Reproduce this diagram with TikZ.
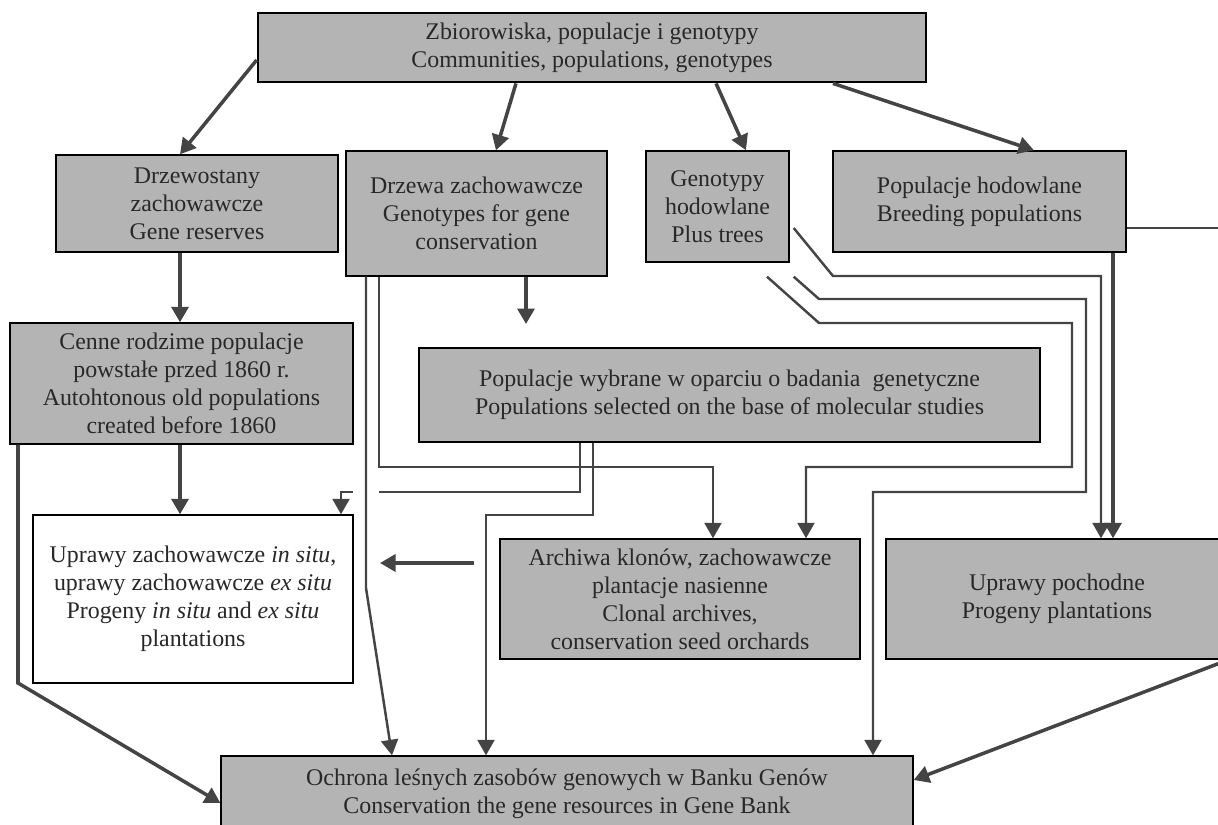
\documentclass[tikz,border=0pt]{standalone}
\usepackage{fontspec}
\setmainfont{Liberation Serif}
\usetikzlibrary{calc}
\usetikzlibrary{arrows.meta}
\definecolor{boxgray}{RGB}{180,180,180}
\definecolor{linegray}{RGB}{68,68,68}
\definecolor{textgray}{RGB}{40,40,40}

\begin{document}
\begin{tikzpicture}[x=0.02cm, y=-0.02cm,
    box/.style={draw=black, line width=0.8pt, fill=boxgray, text=textgray, align=center,
        inner sep=0pt, font=\fontsize{13.6}{16}\selectfont},
    arr/.style={draw=linegray, line width=2pt, -{Triangle[length=0.31cm,width=0.34cm]}},
    wire/.style={draw=linegray, line width=1.4pt, -{Triangle[length=0.31cm,width=0.34cm]}}]
    \clip (0,0) rectangle (1218,825);

    \node[box, line width=1.6pt, minimum width=13.36cm, minimum height=1.38cm] (top) at (592,47.5)
        {Zbiorowiska, populacje i genotypy\\Communities, populations, genotypes};
    \node[box, minimum width=5.64cm, minimum height=1.94cm] (drzewostany) at (197,203.5)
        {Drzewostany\\zachowawcze\\Gene reserves};
    \node[box, minimum width=5.22cm, minimum height=2.5cm] (drzewa) at (476.5,213.5)
        {Drzewa zachowawcze\\Genotypes for gene\\conservation};
    \node[box, minimum width=2.86cm, minimum height=2.22cm] (genotypy) at (717.5,206.5)
        {Genotypy\\hodowlane\\Plus trees};
    \node[box, minimum width=5.86cm, minimum height=2.02cm] (hodowlane) at (979.5,201.5)
        {Populacje hodowlane\\Breeding populations};
    \node[box, minimum width=6.86cm, minimum height=2.42cm] (cenne) at (181.5,383.5)
        {Cenne rodzime populacje\\powstałe przed 1860 r.\\Autohtonous old populations\\created before 1860};
    \node[box, minimum width=12.42cm, minimum height=1.88cm] (wybrane) at (729.5,395)
        {Populacje wybrane w oparciu o badania\ \ genetyczne\\Populations selected on the base of molecular studies};
    \node[box, fill=white, minimum width=6.4cm, minimum height=3.36cm] (zachowawcze) at (193,599)
        {Uprawy zachowawcze \textit{in situ},\\uprawy zachowawcze \textit{ex situ}\\Progeny \textit{in situ} and \textit{ex situ}\\plantations};
    \node[box, minimum width=7.2cm, minimum height=2.4cm] (archiwa) at (680,599)
        {Archiwa klonów, zachowawcze\\plantacje nasienne\\Clonal archives,\\conservation seed orchards};
    \node[box, minimum width=6.84cm, minimum height=2.4cm] (pochodne) at (1057,599)
        {Uprawy pochodne\\Progeny plantations};
    \node[box, minimum width=13.84cm, minimum height=1.5cm] (ochrona) at (567,793.5)
        {Ochrona leśnych zasobów genowych w Banku Genów\\Conservation the gene resources in Gene Bank};

    \coordinate (wybranein) at (526,324);
    \coordinate (archout) at (474,563);
    \coordinate (zachin) at (380,563);
    \coordinate (offright) at (1230,228);

    \draw[arr] (top.west |- 0,60) -- (drzewostany.north -| 180,0);
    \draw[arr] (top.south -| 516,0) -- (drzewa.north -| 496,0);
    \draw[arr] (top.south -| 716,0) -- (genotypy.north -| 746,0);
    \draw[arr] (top.south -| 833,0) -- (hodowlane.north -| 1034,0);
    \draw[arr] (drzewostany.south -| 180,0) -- (cenne.north -| 180,0);
    \draw[arr] (drzewa.south -| 526,0) -- (wybranein);
    \draw[arr] (cenne.south -| 180,0) -- (zachowawcze.north -| 180,0);
    \draw[wire] (drzewa.south -| 366,0) -- (366,588) -- (ochrona.north -| 392,0);
    \draw[wire] (drzewa.south -| 379,0) -- (379,467) -| (archiwa.north -| 713,0);
    \draw[wire] (wybrane.south -| 580,0) |- (379,492) (353,492) -| (zachowawcze.north -| 341,0);
    \draw[wire] (wybrane.south -| 593,0) |- (486,515) -- (ochrona.north -| 486,0);
    \draw[arr] (archout) -- (zachin);
    \draw[wire] ($(genotypy.east)+(4,21.5)$) -- (833,276) -| (pochodne.north -| 1101,0);
    \draw[wire] ($(genotypy.south east)+(4,14)$) -- (819,299) -| (1086,492) -| (ochrona.north -| 873,0);
    \draw[wire] ($(genotypy.south)+(49.5,14)$) -- (819,323) -| (1072,467) -| (archiwa.north -| 806,0);
    \draw[arr] (hodowlane.south -| 1113,0) -- (pochodne.north -| 1113,0);
    \draw[wire, -] (hodowlane.east |- 0,228) -- (offright);
    \draw[arr] (pochodne.south east) -- (ochrona.east |- 0,780);
    \draw[arr] (cenne.south -| 18,0) -- (18,683) -- (ochrona.west |- 0,803);
\end{tikzpicture}
\end{document}
